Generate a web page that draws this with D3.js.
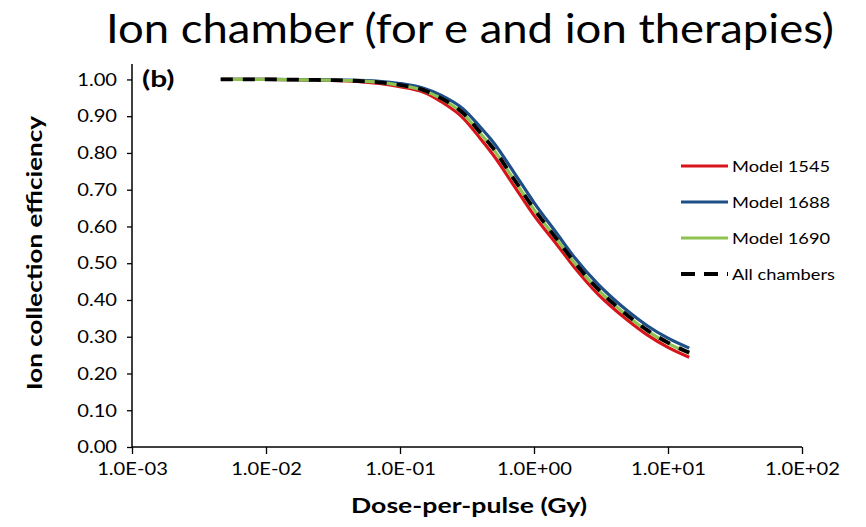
<!DOCTYPE html>
<html>
<head>
<meta charset="utf-8">
<script src="https://cdn.jsdelivr.net/npm/d3@7"></script>
<style>
  body { margin: 0; background: #fff; }
  text { font-family: Lato, "Open Sans", sans-serif; fill: #000; }
</style>
</head>
<body>
<svg id="chart" width="866" height="527"></svg>
<script>
// Dose-per-pulse (Gy) at which each efficiency curve is sampled
const doses = [0.0046, 0.01, 0.02, 0.04, 0.07, 0.1, 0.15, 0.2, 0.3, 0.4, 0.5, 0.7, 1, 1.5, 2, 3, 4, 5, 7, 10, 14.4];

// Ion collection efficiency per chamber model
const model1545 = [1.000, 1.000, 0.999, 0.996, 0.989, 0.980, 0.965, 0.941, 0.893, 0.838, 0.793, 0.714, 0.630, 0.548, 0.489, 0.416, 0.374, 0.345, 0.305, 0.271, 0.244];
const model1688 = [1.000, 1.000, 0.999, 0.998, 0.995, 0.989, 0.976, 0.958, 0.918, 0.869, 0.828, 0.750, 0.665, 0.578, 0.516, 0.443, 0.400, 0.370, 0.330, 0.296, 0.269];
const model1690 = [1.000, 1.000, 0.999, 0.997, 0.992, 0.984, 0.970, 0.949, 0.904, 0.852, 0.809, 0.730, 0.646, 0.562, 0.501, 0.428, 0.386, 0.356, 0.316, 0.282, 0.255];
const allChambers = [1.000, 1.000, 0.999, 0.997, 0.992, 0.985, 0.971, 0.950, 0.906, 0.854, 0.811, 0.732, 0.648, 0.563, 0.503, 0.430, 0.387, 0.358, 0.318, 0.284, 0.257];

const seriesNames = ["Model 1545", "Model 1688", "Model 1690", "All chambers"];

const xTickValues = [1e-3, 1e-2, 1e-1, 1, 10, 100];
const xTickLabels = ["1.0E-03", "1.0E-02", "1.0E-01", "1.0E+00", "1.0E+01", "1.0E+02"];
const yTickValues = [0, 0.1, 0.2, 0.3, 0.4, 0.5, 0.6, 0.7, 0.8, 0.9, 1.0];

const svg = d3.select("#chart");

const plot = { left: 132, right: 802, top: 64, bottom: 447 };

const x = d3.scaleLog().domain([1e-3, 100]).range([plot.left, plot.right]);
const y = d3.scaleLinear().domain([0, 1.042]).range([plot.bottom, plot.top]);

// Widen glyphs horizontally by factor k (the lettering is set wide)
function widen(sel, k) {
  sel.each(function () {
    const w = this.getComputedTextLength();
    this.setAttribute("textLength", (w * k).toFixed(1));
    this.setAttribute("lengthAdjust", "spacingAndGlyphs");
  });
}

// Title
svg.append("text")
  .attr("x", 470).attr("y", 43)
  .attr("text-anchor", "middle")
  .attr("textLength", 728)
  .attr("lengthAdjust", "spacingAndGlyphs")
  .style("font-size", "41px")
  .text("Ion chamber (for e and ion therapies)");

// Y axis
const yAxis = svg.append("g")
  .attr("transform", `translate(${plot.left},0)`)
  .call(d3.axisLeft(y).tickValues(yTickValues).tickFormat(d3.format(".2f")).tickSize(5).tickPadding(10));
yAxis.select(".domain").attr("d", `M0,${plot.top}V${plot.bottom}`).attr("stroke", "#000").attr("stroke-width", 1.5);
yAxis.selectAll(".tick line").attr("stroke", "#000").attr("stroke-width", 1.3);
yAxis.selectAll(".tick text").style("font-size", "18px").style("font-family", "Lato, sans-serif").attr("fill", "#000")
  .call(widen, 1.12);

// X axis
const xAxis = svg.append("g")
  .attr("transform", `translate(0,${plot.bottom})`)
  .call(d3.axisBottom(x).tickValues(xTickValues).tickFormat((d, i) => xTickLabels[i]).tickSize(7).tickPadding(8));
xAxis.select(".domain").attr("d", `M${plot.left},0H${plot.right}`).attr("stroke", "#000").attr("stroke-width", 1.5);
xAxis.selectAll(".tick text").style("font-size", "18px").style("font-family", "Lato, sans-serif").attr("fill", "#000")
  .call(widen, 1.12);
xAxis.selectAll(".tick line").attr("stroke", "#000").attr("stroke-width", 1.3);

// Axis titles
svg.append("text")
  .attr("transform", "translate(42,253) rotate(-90)")
  .attr("text-anchor", "middle")
  .attr("textLength", 274)
  .attr("lengthAdjust", "spacingAndGlyphs")
  .style("font-size", "21px").style("font-weight", "bold")
  .text("Ion collection efficiency");

svg.append("text")
  .attr("x", 469).attr("y", 513)
  .attr("text-anchor", "middle")
  .attr("textLength", 236)
  .attr("lengthAdjust", "spacingAndGlyphs")
  .style("font-size", "21px").style("font-weight", "bold")
  .text("Dose-per-pulse (Gy)");

// Panel label
svg.append("text")
  .attr("x", 142).attr("y", 87)
  .style("font-size", "23px").style("font-weight", "bold")
  .text("(b)")
  .call(widen, 1.3);

// Curves
const series = [
  { name: seriesNames[0], values: model1545, color: "#d7141c", width: 3.2, dash: null },
  { name: seriesNames[1], values: model1688, color: "#1d4f86", width: 3.2, dash: null },
  { name: seriesNames[2], values: model1690, color: "#8fc150", width: 3.2, dash: null },
  { name: seriesNames[3], values: allChambers, color: "#000", width: 3.8, dash: "12,10" }
];

const line = d3.line()
  .x(d => x(d[0]))
  .y(d => y(d[1]))
  .curve(d3.curveMonotoneX);

svg.append("g").selectAll("path")
  .data(series)
  .join("path")
  .attr("fill", "none")
  .attr("stroke", d => d.color)
  .attr("stroke-width", d => d.width)
  .attr("stroke-dasharray", d => d.dash)
  .attr("d", d => line(doses.map((v, i) => [v, d.values[i]])));

// Legend
const legend = svg.append("g").attr("transform", "translate(681,166)");
const rows = legend.selectAll("g")
  .data(series)
  .join("g")
  .attr("transform", (d, i) => `translate(0,${i * 36})`);
rows.append("line")
  .attr("x1", 0).attr("x2", 47)
  .attr("y1", 0).attr("y2", 0)
  .attr("stroke", d => d.color)
  .attr("stroke-width", d => d.width)
  .attr("stroke-dasharray", d => d.dash ? "14,9" : null);
rows.append("text")
  .attr("x", 51).attr("y", 6)
  .style("font-size", "16px")
  .text(d => d.name)
  .call(widen, 1.14);
</script>
</body>
</html>
